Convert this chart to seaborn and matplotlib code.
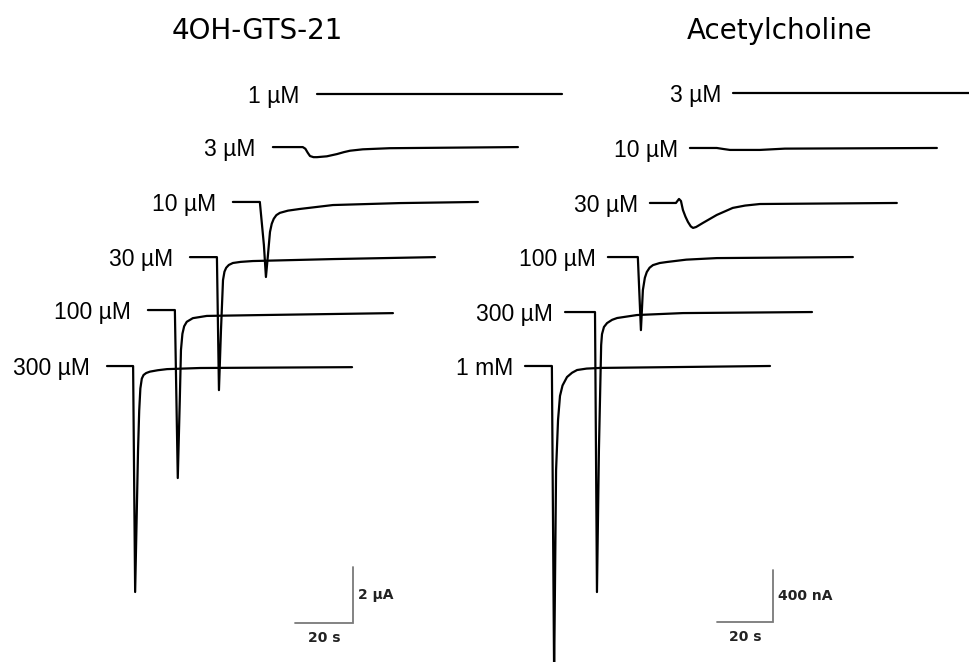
import numpy as np
import pandas as pd
import matplotlib
matplotlib.use("Agg")
from matplotlib import pyplot as plt
import seaborn as sns

# ---- data: relative time (s) and current per trace ----
# 4OH-GTS-21 panel, current in uA
gts_labels = ['300 µM', '100 µM', '30 µM', '10 µM', '3 µM', '1 µM']
gts_t = [
    [0, 9.0, 9.7, 10.7, 11.1, 11.5, 12.0, 12.6, 13.5, 14.8, 17.5, 20.7, 32.1, 84.5],
    [0, 9.3, 10.3, 11.0, 11.4, 11.9, 12.5, 13.4, 15.5, 20.3, 38.6, 84.5],
    [0, 9.3, 10.0, 10.7, 11.4, 11.9, 12.5, 13.4, 14.8, 17.5, 21.7, 49.3, 84.5],
    [0, 9.3, 10.7, 11.4, 12.1, 12.8, 13.4, 14.1, 15.0, 16.2, 19.0, 23.1, 34.5, 57.6, 84.5],
    [0, 10.3, 11.2, 12.0, 12.8, 14.0, 15.2, 18.6, 22.1, 24.5, 26.6, 31.0, 40.3, 84.5],
    [0, 30.0, 60.0, 84.5],
]
gts_i = [
    [0, 0, -8.07, -3.0, -1.6, -0.8, -0.45, -0.32, -0.25, -0.2, -0.15, -0.11, -0.07, -0.04],
    [0, 0, -6.0, -3.21, -1.43, -0.85, -0.58, -0.42, -0.29, -0.21, -0.18, -0.11],
    [0, 0, -4.75, -2.61, -0.82, -0.52, -0.38, -0.28, -0.21, -0.17, -0.14, -0.07, 0],
    [0, 0, -1.54, -2.68, -1.89, -1.07, -0.78, -0.6, -0.47, -0.39, -0.31, -0.25, -0.11, -0.04, 0],
    [0, 0, -0.06, -0.2, -0.32, -0.36, -0.36, -0.33, -0.25, -0.18, -0.13, -0.08, -0.04, 0],
    [0, 0, 0, 0],
]

# Acetylcholine panel, current in nA
ach_labels = ['1 mM', '300 µM', '100 µM', '30 µM', '10 µM', '3 µM']
ach_t = [
    [0, 9.6, 10.4, 11.1, 11.8, 12.5, 13.4, 15.0, 16.8, 18.6, 22.0, 26.8, 87.5],
    [0, 10.7, 11.4, 12.1, 12.9, 13.2, 13.9, 15.0, 16.8, 18.6, 25.7, 42.1, 88.2],
    [0, 10.7, 11.8, 12.5, 13.2, 13.9, 14.9, 16.1, 18.5, 21.1, 28.0, 38.9, 87.5],
    [0, 9.3, 10.4, 11.1, 11.8, 12.7, 13.6, 14.6, 15.4, 16.5, 18.9, 23.9, 29.6, 34.0, 39.3, 88.2],
    [0, 9.6, 12.0, 14.3, 25.0, 33.9, 88.2],
    [0, 30.0, 60.0, 86.4],
]
ach_i = [
    [0, 0, -2377, -800, -415, -230, -150, -85, -52, -31, -20, -15, 0],
    [0, 0, -2154, -1062, -254, -170, -115, -85, -60, -46, -23, -8, 0],
    [0, 0, -562, -254, -160, -115, -82, -62, -46, -38, -20, -8, 0],
    [0, 0, 31, 15, -54, -105, -146, -180, -192, -185, -154, -92, -38, -20, -8, 0],
    [0, 0, -8, -15, -15, -5, 0],
    [0, 0, 0, 0],
]

# ---- layout: where each trace starts (s) and its baseline level ----
gts_start = [36.9, 51.0, 65.5, 80.3, 94.1, 109.3]
gts_base = [10.57, 12.57, 14.46, 16.43, 18.39, 20.29]
ach_start = [187.5, 201.8, 217.1, 232.1, 246.4, 261.8]
ach_base = [2277, 2692, 3115, 3531, 3954, 4377]

W, H = 969, 662
sns.set_style('white')
plt.rcParams['font.family'] = ['Liberation Sans', 'DejaVu Sans']
plt.rcParams['text.color'] = 'black'

fig = plt.figure(figsize=(W / 100, H / 100), dpi=100)


def build_frame(labels, times, currents, starts, bases):
    rows = []
    for lab, t, c, s, b in zip(labels, times, currents, starts, bases):
        for tt, cc in zip(t, c):
            rows.append({'trace': lab, 'x': tt + s, 'y': cc + b})
    return pd.DataFrame(rows)


def draw_panel(ax, labels, times, currents, starts, bases, gap,
               bar_x, bar_y, bar_h, bar_txt):
    df = build_frame(labels, times, currents, starts, bases)
    sns.lineplot(data=df, x='x', y='y', units='trace', estimator=None,
                 sort=False, color='black', lw=1.6, ax=ax, legend=False)
    for line in ax.lines:
        line.set_solid_joinstyle('round')
    for lab, s, b in zip(labels, starts, bases):
        ax.text(s - gap, b, lab, ha='right', va='center_baseline',
                fontsize=16.5, color='black')
    # scale bar
    ax.plot([bar_x - 20, bar_x, bar_x], [bar_y, bar_y, bar_y + bar_h],
            color='#7a7a7a', lw=1.3, solid_joinstyle='miter')
    ax.annotate(bar_txt, (bar_x, bar_y + bar_h / 2), xytext=(3.5, 0),
                textcoords='offset points', ha='left', va='center',
                fontsize=10, fontweight='bold', family='DejaVu Sans',
                color='#222222')
    ax.annotate('20 s', (bar_x - 10, bar_y), xytext=(0, -11),
                textcoords='offset points', ha='center', va='center',
                fontsize=10, fontweight='bold', family='DejaVu Sans',
                color='#222222')
    ax.set_axis_off()


ax1 = fig.add_axes([0, 0, 1, 1])
ax1.set_xlim(0, W / 2.9)
ax1.set_ylim(0, H / 28)
draw_panel(ax1, gts_labels, gts_t, gts_i, gts_start, gts_base, 5.9,
           121.7, 1.39, 2, '2 µA')

ax2 = fig.add_axes([0, 0, 1, 1])
ax2.patch.set_alpha(0)
ax2.set_xlim(0, W / 2.8)
ax2.set_ylim(0, H / 0.13)
draw_panel(ax2, ach_labels, ach_t, ach_i, ach_start, ach_base, 4.3,
           276.1, 308, 400, '400 nA')

fig.text(257 / W, 1 - 28 / H, '4OH-GTS-21', ha='center', va='center_baseline',
         fontsize=20, family='DejaVu Sans', color='black')
fig.text(780 / W, 1 - 28 / H, 'Acetylcholine', ha='center', va='center_baseline',
         fontsize=20, family='DejaVu Sans', color='black')

fig.savefig('out.png', dpi=100)
